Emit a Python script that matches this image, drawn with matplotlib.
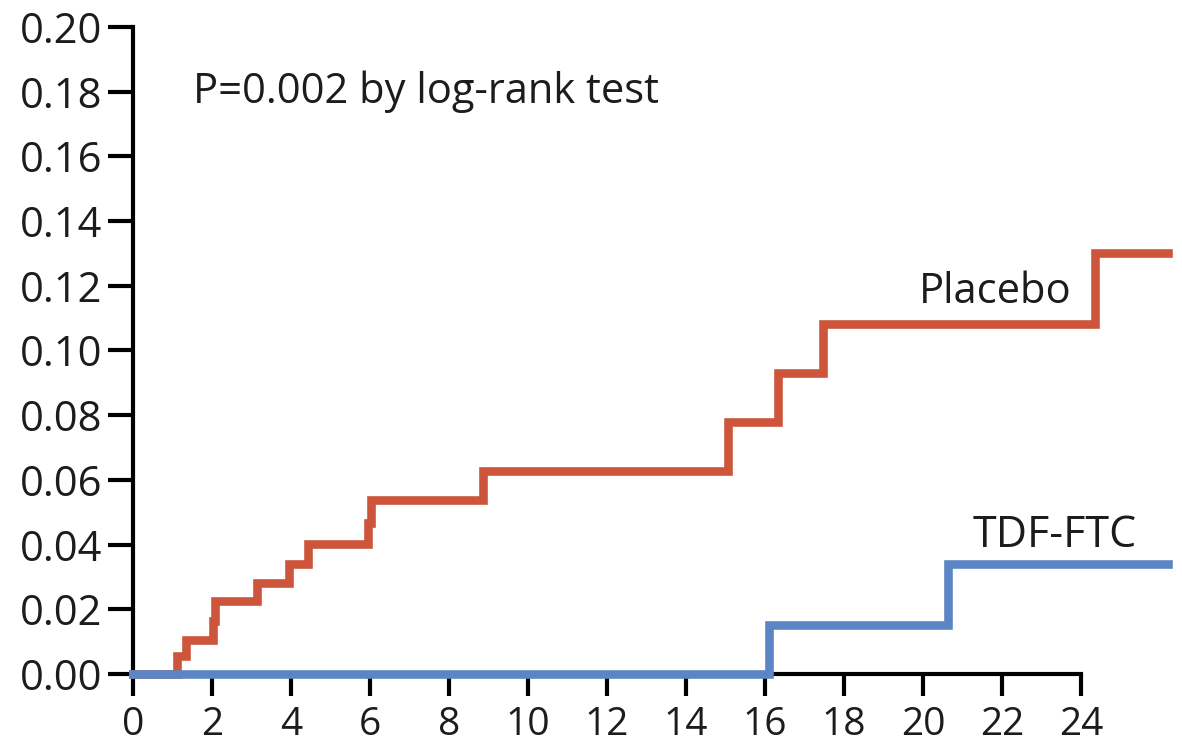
import matplotlib
matplotlib.use("Agg")
import matplotlib.pyplot as plt
from matplotlib.ticker import FuncFormatter

# Cumulative probability of HIV infection (Kaplan-Meier step curves)
placebo_months = [0, 1.12, 1.33, 2.02, 2.08, 3.13, 3.96, 4.43, 5.96, 6.02,
                  8.85, 15.07, 16.34, 17.46, 24.35, 26.2]
placebo_prob = [0, 0.0055, 0.0106, 0.0163, 0.0225, 0.0282, 0.0340, 0.0401,
                0.0468, 0.0537, 0.0626, 0.0778, 0.0931, 0.1083, 0.1300, 0.1300]

tdf_months = [0, 16.11, 20.64, 26.2]
tdf_prob = [0, 0.0150, 0.0341, 0.0341]

x_ticks = list(range(0, 25, 2))
y_ticks = [round(0.02 * i, 2) for i in range(11)]

series_names = ["Placebo", "TDF-FTC"]
p_value_text = "P=0.002 by log-rank test"

RED = "#CC553C"
BLUE = "#5B85C4"
INK = "#1c1c1c"
FONT = ["Open Sans", "DejaVu Sans"]
FS = 30

plt.rcParams["font.family"] = FONT

fig = plt.figure(figsize=(11.82, 7.43), dpi=100)
ax = fig.add_axes([0.1125, 0.0929, 0.8756, 0.8708])

ax.step(placebo_months, placebo_prob, where="post", color=RED, lw=6.2,
        solid_joinstyle="miter", clip_on=False, zorder=3)
ax.step(tdf_months, tdf_prob, where="post", color=BLUE, lw=6.2,
        solid_joinstyle="miter", clip_on=False, zorder=4)

ax.set_xlim(0, 26.2)
ax.set_ylim(0, 0.20)
ax.set_xticks(x_ticks)
ax.set_yticks(y_ticks)
ax.yaxis.set_major_formatter(FuncFormatter(lambda v, _: f"{v:.2f}"))

for side in ("top", "right"):
    ax.spines[side].set_visible(False)
for side in ("left", "bottom"):
    ax.spines[side].set_linewidth(3)
    ax.spines[side].set_color("black")
ax.spines["bottom"].set_bounds(0, 24)

ax.tick_params(axis="both", direction="out", width=3,
               color="black", labelcolor=INK)
ax.tick_params(axis="y", length=18, pad=4, labelsize=FS)
ax.tick_params(axis="x", length=16, pad=7, labelsize=FS - 2)

ax.text(1.52, 0.1766, p_value_text, fontsize=FS, color=INK,
        ha="left", va="baseline")
ax.text(23.77, 0.1148, series_names[0], fontsize=FS, color=INK,
        ha="right", va="baseline")
ax.text(25.42, 0.0394, series_names[1], fontsize=FS + 1, color=INK,
        ha="right", va="baseline")

fig.savefig("out.png", dpi=100)
